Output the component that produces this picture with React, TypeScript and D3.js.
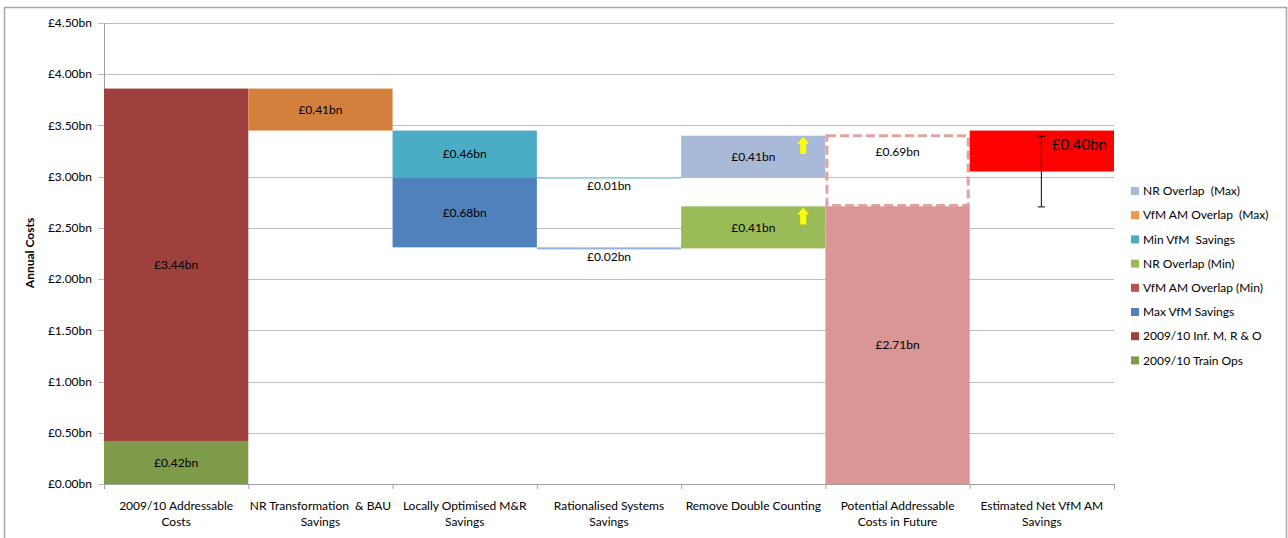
import React from 'react';
import * as d3 from 'd3';

const categories = [
  ['2009/10 Addressable', 'Costs'],
  ['NR Transformation  & BAU', 'Savings'],
  ['Locally Optimised M&R', 'Savings'],
  ['Rationalised Systems', 'Savings'],
  ['Remove Double Counting'],
  ['Potential Addressable', 'Costs in Future'],
  ['Estimated Net VfM AM', 'Savings'],
];

const legendNames = [
  'NR Overlap  (Max)',
  'VfM AM Overlap  (Max)',
  'Min VfM  Savings',
  'NR Overlap (Min)',
  'VfM AM Overlap (Min)',
  'Max VfM Savings',
  '2009/10 Inf. M, R & O',
  '2009/10 Train Ops',
];

const legendColors = ['#A9B9D8', '#F79646', '#4BACC6', '#9BBB59', '#C0504D', '#4F81BD', '#9E413E', '#7F9A48'];

// floating segments: category index, bottom, size, label
const segCategory = [0, 0, 1, 2, 2, 3, 3, 4, 4, 5, 6];
const segBase = [0, 0.42, 3.45, 2.99, 2.31, 2.98, 2.29, 2.99, 2.30, 0, 3.05];
const segValue = [0.42, 3.44, 0.41, 0.46, 0.68, 0.01, 0.02, 0.41, 0.41, 2.71, 0.40];
const segLabel = ['£0.42bn', '£3.44bn', '£0.41bn', '£0.46bn', '£0.68bn', '£0.01bn', '£0.02bn', '£0.41bn', '£0.41bn', '£2.71bn', '£0.40bn'];
const segColor = ['#7F9A48', '#9E413E', '#D3803C', '#4BACC6', '#4F81BD', '#93CDDD', '#95B3D7', '#A9B9D8', '#9BBB59', '#D99694', '#FF0000'];

// dashed outline of the removed overlap
const gapCategory = 5;
const gapBase = 2.71;
const gapValue = 0.69;
const gapLabel = '£0.69bn';

// range bar on the net savings
const errCategory = 6;
const errLow = 2.71;
const errHigh = 3.40;

const yTicks = d3.range(0, 4.51, 0.5);

const font = 'Lato, "Liberation Sans", sans-serif';

export default function App() {
  const width = 1288;
  const height = 538;
  const x = d3.scaleBand<number>().domain(d3.range(categories.length)).range([104, 1114]).padding(0);
  const y = d3.scaleLinear().domain([0, 4.5]).range([484, 23]);
  const fmt = (v: number) => '£' + d3.format('.2f')(v) + 'bn';

  const arrow = (cx: number, top: number) => {
    const p = d3.path();
    p.moveTo(cx, top);
    p.lineTo(cx + 6, top + 7);
    p.lineTo(cx + 3, top + 7);
    p.lineTo(cx + 3, top + 17);
    p.lineTo(cx - 3, top + 17);
    p.lineTo(cx - 3, top + 7);
    p.lineTo(cx - 6, top + 7);
    p.closePath();
    return p.toString();
  };

  return (
    <svg width={width} height={height} style={{ position: 'absolute', left: 0, top: 0 }} fontFamily={font}>
      <rect x={0} y={0} width={width} height={height} fill="#fff" />
      <rect x={4.5} y={7.5} width={1282} height={540} fill="none" stroke="#A6A6A6" strokeWidth={1.5} />

      {/* grid */}
      {yTicks.map(t => (
        <g key={t}>
          <line x1={98} x2={1114} y1={Math.round(y(t)) + 0.5} y2={Math.round(y(t)) + 0.5} stroke="#BEBEBE" />
          <text x={92} y={y(t)} dy="0.35em" textAnchor="end" fontSize={12} fill="#000">{fmt(t)}</text>
        </g>
      ))}
      <line x1={104.5} x2={104.5} y1={y(4.5)} y2={y(0)} stroke="#A0A0A0" />
      <line x1={104} x2={1114} y1={y(0) + 0.5} y2={y(0) + 0.5} stroke="#A0A0A0" />
      {d3.range(categories.length + 1).map(i => {
        const xx = i < categories.length ? x(i)! : 1114;
        return <line key={i} x1={xx + 0.5} x2={xx + 0.5} y1={y(0)} y2={y(0) + 5} stroke="#A0A0A0" />;
      })}

      <text transform={`translate(34,${253}) rotate(-90)`} textAnchor="middle" fontSize={12} fontWeight="bold">Annual Costs</text>

      {/* dashed gap */}
      <rect
        x={x(gapCategory)! + 1.5}
        y={y(gapBase + gapValue)}
        width={x.bandwidth() - 3}
        height={y(gapBase) - y(gapBase + gapValue) - 1}
        fill="none"
        stroke="#E0A3A1"
        strokeWidth={3}
        strokeDasharray="9 4"
      />
      <text x={x(gapCategory)! + x.bandwidth() / 2} y={y(gapBase + gapValue) + 16} dy="0.35em" textAnchor="middle" fontSize={12}>{gapLabel}</text>

      {/* bars */}
      {segValue.map((v, i) => {
        const x0 = x(segCategory[i])!;
        const top = y(segBase[i] + v);
        const h = Math.max(1, y(segBase[i]) - top);
        return <rect key={i} x={x0} y={top} width={x.bandwidth()} height={h} fill={segColor[i]} />;
      })}
      {segValue.map((v, i) => {
        const x0 = x(segCategory[i])!;
        const top = y(segBase[i] + v);
        const bottom = y(segBase[i]);
        if (segCategory[i] === 6) {
          return <text key={i} x={x0 + x.bandwidth() * 0.76} y={top + 14} dy="0.35em" textAnchor="middle" fontSize={15}>{segLabel[i]}</text>;
        }
        const small = v < 0.05;
        const ly = small ? bottom + 7 : (top + bottom) / 2;
        return <text key={i} x={x0 + x.bandwidth() / 2} y={ly} dy="0.35em" textAnchor="middle" fontSize={12}>{segLabel[i]}</text>;
      })}

      {/* arrows on the overlap bars */}
      {[7, 8].map(i => (
        <path key={i} d={arrow(x(segCategory[i])! + x.bandwidth() * 0.846, y(segBase[i] + segValue[i]) + 1)} fill="#FFFF00" />
      ))}

      {/* range bar */}
      {(() => {
        const cx = x(errCategory)! + x.bandwidth() / 2 - 1;
        return (
          <g stroke="#000" strokeWidth={1}>
            <line x1={cx + 0.5} x2={cx + 0.5} y1={y(errHigh)} y2={y(errLow)} />
            <line x1={cx - 3} x2={cx + 4} y1={y(errHigh) + 0.5} y2={y(errHigh) + 0.5} />
            <line x1={cx - 3} x2={cx + 4} y1={y(errLow) + 0.5} y2={y(errLow) + 0.5} />
          </g>
        );
      })()}

      {/* category labels */}
      {categories.map((lines, i) => (
        <text key={i} x={x(i)! + x.bandwidth() / 2} y={510} textAnchor="middle" fontSize={12} xmlSpace="preserve">
          {lines.map((l, j) => (
            <tspan key={j} x={x(i)! + x.bandwidth() / 2} dy={j === 0 ? 0 : 16}>{l}</tspan>
          ))}
        </text>
      ))}

      {/* legend */}
      {legendNames.map((n, i) => (
        <g key={n} transform={`translate(1131,${191 + i * 24.2})`}>
          <rect x={0} y={-4} width={8} height={8} fill={legendColors[i]} />
          <text x={12} y={0} dy="0.35em" fontSize={12} xmlSpace="preserve">{n}</text>
        </g>
      ))}
    </svg>
  );
}
